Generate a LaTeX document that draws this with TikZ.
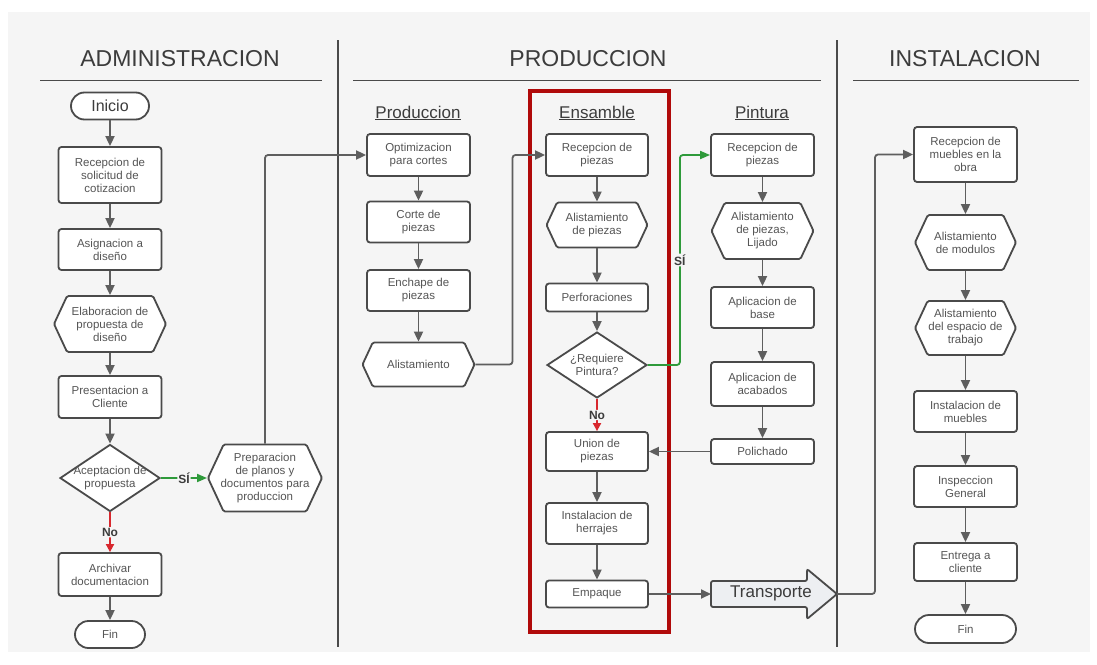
\documentclass[tikz,border=0pt]{standalone}
\usepackage{fontspec}
\setmainfont{Liberation Sans}
\usetikzlibrary{shapes.geometric,shapes.misc,shapes.symbols,arrows.meta}

\definecolor{bg}{HTML}{F5F5F5}
\definecolor{edge}{HTML}{4A4A4A}
\definecolor{txt}{HTML}{555555}
\definecolor{conn}{HTML}{5E5E5E}
\definecolor{okgreen}{HTML}{2E9A3A}
\definecolor{nored}{HTML}{D8282E}
\definecolor{frame}{HTML}{B00A0A}
\definecolor{head}{HTML}{3C3C3C}
\definecolor{arrowfill}{HTML}{EDEFF2}

\begin{document}
\begin{tikzpicture}[x=1pt,y=-1pt,
  every node/.style={font=\fontsize{11.5}{13}\selectfont, text=txt},
  proc/.style={rectangle, rounded corners=3pt, draw=edge, fill=white,
    line width=1.8pt, align=center, minimum width=103pt, inner sep=1pt},
  term/.style={rounded rectangle, draw=edge, fill=white, line width=1.8pt,
    minimum height=27pt, inner sep=1pt},
  hexa/.style={signal, signal to=east and west, signal pointer angle=130,
    draw=edge, fill=white, line width=1.8pt, inner sep=0pt, rounded corners=1.5pt,
    label={[align=center]center:#1}},
  decision/.style={diamond, draw=edge, fill=white, line width=1.8pt,
    inner sep=0pt, minimum width=100pt},
  dlab/.style={align=center},
  title/.style={font=\fontsize{23}{26}\selectfont, text=head},
  sub/.style={font=\fontsize{17}{20}\selectfont, text=head, anchor=base},
  rule/.style={draw=edge, line width=1.8pt},
  arr/.style={draw=conn, line width=1.8pt, rounded corners=3pt,
    -{Triangle[length=10pt,width=9pt]}},
  yes/.style={arr, draw=okgreen, -{Triangle[length=10pt,width=8pt,fill=okgreen]}},
  no/.style={arr, draw=nored, -{Triangle[length=8pt,width=8pt,fill=nored]}},
  answer/.style={font=\bfseries\fontsize{12}{14}\selectfont, text=head,
    fill=bg, inner sep=1pt}
]
\useasboundingbox (0,0) rectangle (1097,664);
\fill[bg] (8,12) rectangle (1090,652);

% lane headings and separators
\node[title] (tadm) at (180,59) {ADMINISTRACION};
\node[title] (tprod) at (588,59) {PRODUCCION};
\node[title] (tinst) at (965,59) {INSTALACION};
\draw[rule] (40,80.5) -- (322,80.5);
\draw[rule] (353,80.5) -- (821,80.5);
\draw[rule] (853,80.5) -- (1079,80.5);
\draw[rule] (338,40) -- (338,647);
\draw[rule] (837,40) -- (837,647);

% assembly frame
\draw[frame, line width=4pt] (530,91) rectangle (669,632);

\node[sub] (hprod) at (418,118) {\underline{Produccion}};
\node[sub] (hens) at (597,118) {\underline{Ensamble}};
\node[sub] (hpin) at (762,118) {\underline{Pintura}};

% ADMINISTRACION
\node[term, minimum width=80pt, font=\fontsize{16}{18}\selectfont, text=head] (inicio) at (110,106) {Inicio};
\node[proc, minimum height=56pt] (a1) at (110,175) {Recepcion de\\solicitud de\\cotizacion};
\node[proc, minimum height=41pt] (a2) at (110,249.5) {Asignacion a\\diseño};
\node[hexa={Elaboracion de\\propuesta de\\diseño}, minimum width=112pt, minimum height=56pt] (a3) at (110,324) {};
\node[proc, minimum height=42pt] (a4) at (110,397) {Presentacion a\\Cliente};
\node[decision, minimum height=67pt, label={[dlab]center:{Aceptacion de\\propuesta}}] (a5) at (110,478) {};
\node[proc, minimum height=43pt] (a6) at (110,574.5) {Archivar\\documentacion};
\node[term, minimum width=72pt] (fin1) at (110,634.5) {Fin};
\node[hexa={Preparacion\\de planos y\\documentos para\\produccion}, minimum width=114pt, minimum height=67pt] (prep) at (265,478) {};

% PRODUCCION - Produccion
\node[proc, minimum height=42pt] (p1) at (418.5,155) {Optimizacion\\para cortes};
\node[proc, minimum height=41pt] (p2) at (418.5,222) {Corte de\\piezas};
\node[proc, minimum height=41pt] (p3) at (418.5,290.5) {Enchape de\\piezas};
\node[hexa={Alistamiento}, minimum width=112pt, minimum height=44pt] (p4) at (418.5,364.5) {};

% PRODUCCION - Ensamble
\node[proc, minimum width=102pt, minimum height=42pt] (e1) at (597,155) {Recepcion de\\piezas};
\node[hexa={Alistamiento\\de piezas}, minimum width=101pt, minimum height=45pt] (e2) at (597,225) {};
\node[proc, minimum width=102pt, minimum height=28pt] (e3) at (597,297.5) {Perforaciones};
\node[decision, minimum height=66pt, label={[dlab]center:{¿Requiere\\Pintura?}}] (e4) at (597,365) {};
\node[proc, minimum width=102pt, minimum height=39pt] (e5) at (597,451.5) {Union de\\piezas};
\node[proc, minimum width=102pt, minimum height=41pt] (e6) at (597,523.5) {Instalacion de\\herrajes};
\node[proc, minimum width=102pt, minimum height=27pt] (e7) at (597,594) {Empaque};

% PRODUCCION - Pintura
\node[proc, minimum height=42pt] (q1) at (762.5,155) {Recepcion de\\piezas};
\node[hexa={Alistamiento\\de piezas,\\Lijado}, minimum width=102pt, minimum height=56pt] (q2) at (762.5,231) {};
\node[proc, minimum height=41pt] (q3) at (762.5,307.5) {Aplicacion de\\base};
\node[proc, minimum height=44pt] (q4) at (762.5,384) {Aplicacion de\\acabados};
\node[proc, minimum height=25pt] (q5) at (762.5,451.5) {Polichado};

% Transporte block arrow
\filldraw[fill=arrowfill, draw=edge, line width=1.8pt, rounded corners=2pt]
  (711,581) -- (807,581) -- (807,569) -- (837,594) -- (807,619) -- (807,607)
  -- (711,607) -- cycle;
\coordinate (trtail) at (711,594);
\coordinate (trtip) at (837,594);
\node[font=\fontsize{17}{20}\selectfont, text=head] (trtxt) at (771,593) {Transporte};

% INSTALACION
\node[proc, minimum height=55pt] (i1) at (965.5,154.5) {Recepcion de\\muebles en la\\obra};
\node[hexa={Alistamiento\\de modulos}, minimum width=101pt, minimum height=55pt] (i2) at (965.5,242.5) {};
\node[hexa={Alistamiento\\del espacio de\\trabajo}, minimum width=101pt, minimum height=54pt] (i3) at (965.5,328) {};
\node[proc, minimum height=41pt] (i4) at (965.5,411.5) {Instalacion de\\muebles};
\node[proc, minimum height=41pt] (i5) at (965.5,486.5) {Inspeccion\\General};
\node[proc, minimum height=38pt] (i6) at (965.5,562) {Entrega a\\cliente};
\node[term, minimum width=103pt, minimum height=28pt] (fin2) at (965.5,629) {Fin};

% connectors: administracion
\draw[arr] (inicio.south) -- (a1.north);
\draw[arr] (a1.south) -- (a2.north);
\draw[arr] (a2.south) -- (a3.north);
\draw[arr] (a3.south) -- (a4.north);
\draw[arr] (a4.south) -- (a5.north);
\draw[no] (a5.south) -- node[answer] {No} (a6.north);
\draw[arr] (a6.south) -- (fin1.north);
\draw[yes] (a5.east) -- node[answer] {SÍ} (prep.west);
\draw[arr] (prep.north) |- (p1.west);

% connectors: produccion
\draw[arr] (p1.south) -- (p2.north);
\draw[arr] (p2.south) -- (p3.north);
\draw[arr] (p3.south) -- (p4.north);
\draw[arr] (p4.east) -- ++(37,0) |- (e1.west);

% connectors: ensamble
\draw[arr] (e1.south) -- (e2.north);
\draw[arr] (e2.south) -- (e3.north);
\draw[arr] (e3.south) -- (e4.north);
\draw[no] (e4.south) -- node[answer] {No} (e5.north);
\draw[yes] (e4.east) -- ++(32,0) |- node[pos=0.25, answer] {SÍ} (q1.west);
\draw[arr] (e5.south) -- (e6.north);
\draw[arr] (e6.south) -- (e7.north);
\draw[arr] (e7.east) -- (trtail);

% connectors: pintura
\draw[arr] (q1.south) -- (q2.north);
\draw[arr] (q2.south) -- (q3.north);
\draw[arr] (q3.south) -- (q4.north);
\draw[arr] (q4.south) -- (q5.north);
\draw[arr] (q5.west) -- (e5.east);

% connectors: instalacion
\draw[arr] (trtip) -- ++(38,0) |- (i1.west);
\draw[arr] (i1.south) -- (i2.north);
\draw[arr] (i2.south) -- (i3.north);
\draw[arr] (i3.south) -- (i4.north);
\draw[arr] (i4.south) -- (i5.north);
\draw[arr] (i5.south) -- (i6.north);
\draw[arr] (i6.south) -- (fin2.north);
\end{tikzpicture}
\end{document}
